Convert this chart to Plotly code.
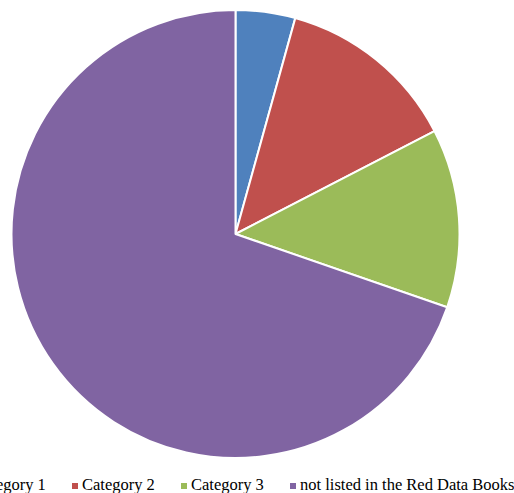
import plotly.graph_objects as go

# Share of species by Red Data Book status (%)
categories = ["Category 1", "Category 2", "Category 3", "not listed in the Red Data Books"]
shares = [4.3, 13.1, 12.9, 69.7]
colors = ["#4F81BD", "#C0504D", "#9BBB59", "#8064A2"]

W, H = 514, 493

fig = go.Figure(
    go.Pie(
        labels=categories,
        values=shares,
        sort=False,
        direction="clockwise",
        rotation=0,
        textinfo="none",
        hoverinfo="label+percent",
        marker=dict(colors=colors, line=dict(color="white", width=2)),
        showlegend=False,
        domain=dict(x=[11.5 / W, 459.5 / W], y=[(H - 458) / H, (H - 10) / H]),
    )
)

# Horizontal legend along the bottom: small colour square followed by the label
legend_text_x = [-27, 82, 191, 300]   # left edge of each label box, px
legend_y = 484                        # label centre line, px
shapes, annotations = [], []
for name, col, tx in zip(categories, colors, legend_text_x):
    sx = tx - 10
    shapes.append(dict(
        type="rect", xref="paper", yref="paper",
        x0=sx / W, x1=(sx + 6) / W,
        y0=(H - 489) / H, y1=(H - 483) / H,
        fillcolor=col, line=dict(width=0),
    ))
    annotations.append(dict(
        text=name, xref="paper", yref="paper",
        x=tx / W, y=(H - legend_y) / H,
        xanchor="left", yanchor="middle", showarrow=False,
        borderpad=0, borderwidth=0,
        font=dict(family="Liberation Serif", size=16.5, color="#000000"),
    ))

fig.update_layout(
    width=W, height=H,
    margin=dict(l=0, r=0, t=0, b=0, autoexpand=False),
    paper_bgcolor="white", plot_bgcolor="white",
    shapes=shapes, annotations=annotations,
)

fig.write_html("out.html")
